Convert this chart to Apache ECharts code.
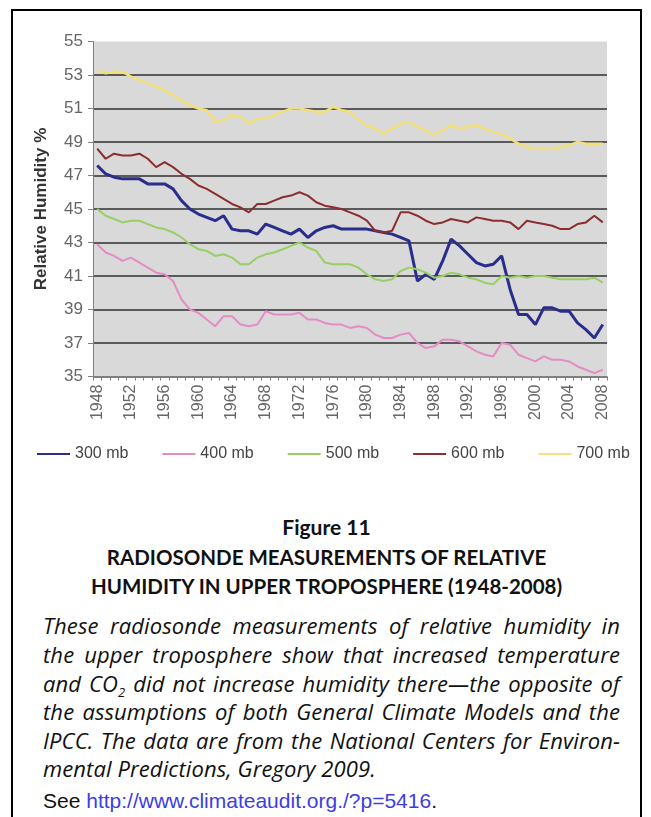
<!DOCTYPE html>
<html>
<head>
<meta charset="utf-8">
<script src="https://cdn.jsdelivr.net/npm/echarts/dist/echarts.min.js"></script>
<style>
  html, body { margin: 0; padding: 0; background: #fff; }
  body { width: 651px; height: 817px; position: relative; overflow: hidden; }
  #frame { position: absolute; left: 11px; top: 9px; width: 631px; height: 840px; border: 2px solid #000; box-sizing: border-box; }
  #chart { position: absolute; left: 0; top: 0; width: 651px; height: 470px; }
  .ln { position: absolute; white-space: nowrap; }
  .ctr { left: 0; width: 653px; text-align: center; font-family: Lato, sans-serif; font-weight: bold; color: #111; }
  .body { left: 43px; width: 577px; font-family: 'Open Sans', sans-serif; font-style: italic; font-size: 22px; color: #111;
          text-align: justify; text-align-last: justify; line-height: 28px; height: 28px; letter-spacing: 0.1px; }
  sub { font-size: 13px; line-height: 0; }
  a { color: #3d3de6; text-decoration: none; }
</style>
</head>
<body>
<div id="frame"></div>
<div id="chart"></div>

<div class="ln ctr" style="top:513px;font-size:21px;line-height:28px;">Figure 11</div>
<div class="ln ctr" style="top:543px;font-size:20.5px;line-height:28px;">RADIOSONDE MEASUREMENTS OF RELATIVE</div>
<div class="ln ctr" style="top:572px;font-size:20.5px;line-height:28px;">HUMIDITY IN UPPER TROPOSPHERE (1948-2008)</div>

<div class="ln body" style="top:611px;">These radiosonde measurements of relative humidity in</div>
<div class="ln body" style="top:640px;">the upper troposphere show that increased temperature</div>
<div class="ln body" style="top:669px;">and CO<sub>2</sub> did not increase humidity there—the opposite of</div>
<div class="ln body" style="top:697px;">the assumptions of both General Climate Models and the</div>
<div class="ln body" style="top:726px;">IPCC. The data are from the National Centers for Environ-</div>
<div class="ln body" style="top:754px;text-align-last:left;">mental Predictions, Gregory 2009.</div>
<div class="ln" style="left:43px;top:788px;font-family:'Liberation Sans',Arial,sans-serif;font-size:21px;line-height:26px;color:#111;">See <a>http://www.climateaudit.org./?p=5416</a>.</div>

<script>
var years = ['1948','1949','1950','1951','1952','1953','1954','1955','1956','1957',
  '1958','1959','1960','1961','1962','1963','1964','1965','1966','1967',
  '1968','1969','1970','1971','1972','1973','1974','1975','1976','1977',
  '1978','1979','1980','1981','1982','1983','1984','1985','1986','1987',
  '1988','1989','1990','1991','1992','1993','1994','1995','1996','1997',
  '1998','1999','2000','2001','2002','2003','2004','2005','2006','2007','2008'];

var mb300 = [47.6,47.1,46.9,46.8,46.8,46.8,46.5,46.5,46.5,46.2,
  45.5,45.0,44.7,44.5,44.3,44.6,43.8,43.7,43.7,43.5,
  44.1,43.9,43.7,43.5,43.8,43.3,43.7,43.9,44.0,43.8,
  43.8,43.8,43.8,43.7,43.6,43.5,43.3,43.1,40.7,41.1,
  40.8,41.9,43.2,42.8,42.3,41.8,41.6,41.7,42.2,40.2,
  38.7,38.7,38.1,39.1,39.1,38.9,38.9,38.2,37.8,37.3,38.1];

var mb400 = [42.9,42.4,42.2,41.9,42.1,41.8,41.5,41.2,41.1,40.7,
  39.6,39.0,38.8,38.4,38.0,38.6,38.6,38.1,38.0,38.1,
  38.9,38.7,38.7,38.7,38.8,38.4,38.4,38.2,38.1,38.1,
  37.9,38.0,37.9,37.5,37.3,37.3,37.5,37.6,37.0,36.7,
  36.8,37.2,37.2,37.1,36.8,36.5,36.3,36.2,37.0,36.9,
  36.3,36.1,35.9,36.2,36.0,36.0,35.9,35.6,35.4,35.2,35.4];

var mb500 = [45.0,44.6,44.4,44.2,44.3,44.3,44.1,43.9,43.8,43.6,
  43.3,42.9,42.6,42.5,42.2,42.3,42.1,41.7,41.7,42.1,
  42.3,42.4,42.6,42.8,43.0,42.7,42.5,41.8,41.7,41.7,
  41.7,41.5,41.1,40.8,40.7,40.8,41.3,41.5,41.4,41.2,
  40.9,41.0,41.2,41.1,40.9,40.8,40.6,40.5,41.0,40.9,
  41.0,40.9,41.0,41.0,40.9,40.8,40.8,40.8,40.8,40.9,40.6];

var mb600 = [48.6,48.0,48.3,48.2,48.2,48.3,48.0,47.5,47.8,47.5,
  47.1,46.8,46.4,46.2,45.9,45.6,45.3,45.1,44.8,45.3,
  45.3,45.5,45.7,45.8,46.0,45.8,45.4,45.2,45.1,45.0,
  44.8,44.6,44.3,43.7,43.6,43.7,44.8,44.8,44.6,44.3,
  44.1,44.2,44.4,44.3,44.2,44.5,44.4,44.3,44.3,44.2,
  43.8,44.3,44.2,44.1,44.0,43.8,43.8,44.1,44.2,44.6,44.2];

var mb700 = [53.3,53.1,53.2,53.2,52.9,52.7,52.5,52.3,52.1,51.8,
  51.5,51.2,51.0,50.9,50.2,50.3,50.6,50.5,50.1,50.4,
  50.4,50.6,50.8,51.0,51.0,50.9,50.8,50.8,51.1,50.9,
  50.8,50.3,50.0,49.8,49.5,49.8,50.1,50.2,49.9,49.7,
  49.4,49.7,50.0,49.8,49.9,50.0,49.8,49.6,49.5,49.2,
  48.9,48.7,48.6,48.6,48.6,48.7,48.8,49.0,48.9,48.9,48.9];

var chart = echarts.init(document.getElementById('chart'));

function line(name, data, color, width) {
  return {
    name: name, type: 'line', data: data, symbol: 'none', smooth: false,
    lineStyle: { color: color, width: width }, itemStyle: { color: color },
    animation: false
  };
}

var gridColors = ['#808080','#5a5a5a','#5a5a5a','#5a5a5a','#5a5a5a','#5a5a5a',
  '#5a5a5a','#5a5a5a','#5a5a5a','#5a5a5a','transparent'];

chart.setOption({
  animation: false,
  grid: { left: 93, right: 44, top: 41.5, bottom: 93.5, show: true,
          backgroundColor: '#d9d9d9', borderWidth: 0 },
  legend: {
    left: 32, top: 441, itemWidth: 33, itemHeight: 10, itemGap: 34,
    icon: 'path://M0,4 L33,4 L33,6 L0,6 Z',
    textStyle: { fontFamily: 'Liberation Sans', fontSize: 16, color: '#444' },
    data: ['300 mb', '400 mb', '500 mb', '600 mb', '700 mb']
  },
  xAxis: {
    type: 'category', data: years, boundaryGap: true,
    axisLine: { lineStyle: { color: '#808080', width: 1 } },
    axisTick: { show: true, interval: 0, length: 4, lineStyle: { color: '#808080' } },
    axisLabel: { interval: 3, rotate: 90, color: '#666', fontSize: 16,
                 fontFamily: 'Liberation Sans', margin: 8 }
  },
  yAxis: {
    type: 'value', min: 35, max: 55, interval: 2,
    name: 'Relative Humidity %', nameLocation: 'middle', nameGap: 43,
    nameTextStyle: { fontFamily: 'Liberation Sans', fontWeight: 'bold', fontSize: 17, color: '#333' },
    axisLine: { show: true, lineStyle: { color: '#808080', width: 1 } },
    axisTick: { show: true, length: 5, lineStyle: { color: '#808080' } },
    axisLabel: { color: '#666', fontSize: 17, fontFamily: 'Liberation Sans', margin: 10 },
    splitLine: { show: true, lineStyle: { color: gridColors, width: 2 } }
  },
  series: [
    line('300 mb', mb300, '#2a2d8c', 3),
    line('400 mb', mb400, '#e58cc4', 2),
    line('500 mb', mb500, '#98cf64', 2),
    line('600 mb', mb600, '#8c2e2e', 2),
    line('700 mb', mb700, '#f2e07a', 2.5)
  ]
});
</script>
</body>
</html>
